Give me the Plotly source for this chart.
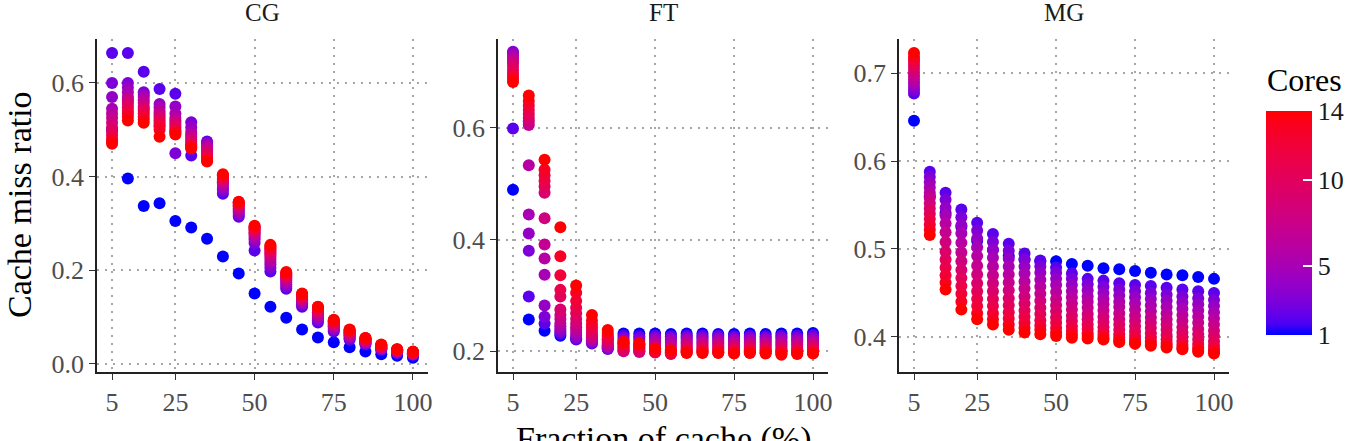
import plotly.graph_objects as go

# ---------------- data ----------------
fractions = [5, 10, 15, 20, 25, 30, 35, 40, 45, 50, 55, 60, 65, 70, 75, 80, 85, 90, 95, 100]
cores = [1, 2, 3, 4, 5, 6, 7, 8, 9, 10, 11, 12, 13, 14]
benchmarks = ["CG", "FT", "MG"]
x_ticks = [5, 25, 50, 75, 100]
core_ticks = [1, 5, 10, 14]

# each row: one fraction of cache; values for cores 1..14
cg_miss = [
    [0.500, 0.664, 0.600, 0.570, 0.545, 0.535, 0.525, 0.515, 0.505, 0.495, 0.488, 0.480, 0.475, 0.470],
    [0.396, 0.664, 0.600, 0.590, 0.580, 0.570, 0.565, 0.560, 0.555, 0.548, 0.540, 0.535, 0.528, 0.520],
    [0.337, 0.624, 0.580, 0.575, 0.570, 0.563, 0.557, 0.550, 0.545, 0.540, 0.535, 0.528, 0.522, 0.515],
    [0.343, 0.587, 0.507, 0.555, 0.548, 0.540, 0.535, 0.530, 0.525, 0.520, 0.515, 0.510, 0.500, 0.485],
    [0.305, 0.577, 0.450, 0.550, 0.535, 0.525, 0.520, 0.515, 0.510, 0.505, 0.500, 0.497, 0.493, 0.490],
    [0.291, 0.445, 0.516, 0.505, 0.495, 0.490, 0.485, 0.480, 0.475, 0.470, 0.468, 0.465, 0.462, 0.460],
    [0.267, 0.475, 0.472, 0.470, 0.466, 0.462, 0.458, 0.455, 0.450, 0.446, 0.442, 0.438, 0.435, 0.432],
    [0.229, 0.363, 0.370, 0.375, 0.380, 0.385, 0.388, 0.390, 0.393, 0.396, 0.399, 0.401, 0.403, 0.405],
    [0.193, 0.314, 0.318, 0.322, 0.326, 0.330, 0.333, 0.336, 0.338, 0.340, 0.342, 0.344, 0.345, 0.346],
    [0.150, 0.242, 0.258, 0.265, 0.270, 0.275, 0.278, 0.281, 0.284, 0.287, 0.289, 0.291, 0.293, 0.295],
    [0.122, 0.197, 0.205, 0.212, 0.218, 0.224, 0.229, 0.234, 0.238, 0.242, 0.245, 0.248, 0.251, 0.254],
    [0.098, 0.160, 0.165, 0.170, 0.174, 0.178, 0.181, 0.184, 0.186, 0.188, 0.190, 0.192, 0.194, 0.196],
    [0.073, 0.122, 0.126, 0.129, 0.132, 0.135, 0.137, 0.139, 0.141, 0.143, 0.145, 0.147, 0.149, 0.150],
    [0.056, 0.088, 0.093, 0.097, 0.101, 0.104, 0.107, 0.110, 0.113, 0.115, 0.117, 0.119, 0.121, 0.122],
    [0.046, 0.069, 0.072, 0.075, 0.078, 0.080, 0.082, 0.084, 0.086, 0.088, 0.090, 0.091, 0.093, 0.094],
    [0.035, 0.051, 0.054, 0.057, 0.059, 0.061, 0.063, 0.065, 0.066, 0.068, 0.069, 0.071, 0.072, 0.073],
    [0.026, 0.041, 0.043, 0.045, 0.046, 0.047, 0.049, 0.050, 0.051, 0.052, 0.053, 0.054, 0.055, 0.055],
    [0.020, 0.030, 0.031, 0.032, 0.033, 0.034, 0.035, 0.036, 0.037, 0.038, 0.039, 0.040, 0.040, 0.041],
    [0.017, 0.023, 0.024, 0.025, 0.026, 0.026, 0.027, 0.028, 0.028, 0.029, 0.030, 0.030, 0.031, 0.031],
    [0.013, 0.019, 0.020, 0.020, 0.021, 0.021, 0.022, 0.022, 0.023, 0.023, 0.024, 0.025, 0.025, 0.026],
]

ft_miss = [
    [0.489, 0.599, 0.736, 0.733, 0.729, 0.725, 0.720, 0.716, 0.710, 0.703, 0.697, 0.692, 0.687, 0.682],
    [0.257, 0.298, 0.380, 0.411, 0.445, 0.533, 0.605, 0.612, 0.618, 0.625, 0.632, 0.640, 0.648, 0.658],
    [0.237, 0.250, 0.262, 0.282, 0.337, 0.366, 0.391, 0.438, 0.484, 0.495, 0.505, 0.515, 0.525, 0.543],
    [0.228, 0.232, 0.236, 0.240, 0.245, 0.250, 0.258, 0.265, 0.275, 0.298, 0.310, 0.336, 0.370, 0.422],
    [0.222, 0.221, 0.224, 0.228, 0.233, 0.238, 0.243, 0.250, 0.258, 0.268, 0.278, 0.290, 0.305, 0.318],
    [0.220, 0.214, 0.216, 0.218, 0.220, 0.222, 0.225, 0.228, 0.232, 0.237, 0.242, 0.248, 0.255, 0.265],
    [0.222, 0.204, 0.205, 0.207, 0.209, 0.211, 0.213, 0.216, 0.219, 0.222, 0.226, 0.229, 0.233, 0.238],
    [0.232, 0.228, 0.224, 0.220, 0.214, 0.207, 0.201, 0.200, 0.203, 0.207, 0.210, 0.213, 0.215, 0.217],
    [0.232, 0.227, 0.223, 0.219, 0.213, 0.206, 0.200, 0.199, 0.202, 0.205, 0.208, 0.210, 0.212, 0.214],
    [0.232, 0.228, 0.225, 0.222, 0.218, 0.214, 0.210, 0.205, 0.200, 0.198, 0.199, 0.201, 0.203, 0.205],
    [0.231, 0.227, 0.224, 0.221, 0.217, 0.213, 0.208, 0.203, 0.198, 0.195, 0.196, 0.198, 0.200, 0.202],
    [0.232, 0.228, 0.225, 0.222, 0.219, 0.216, 0.213, 0.210, 0.207, 0.204, 0.202, 0.200, 0.198, 0.197],
    [0.232, 0.228, 0.225, 0.222, 0.219, 0.216, 0.213, 0.210, 0.207, 0.204, 0.202, 0.200, 0.198, 0.197],
    [0.231, 0.228, 0.225, 0.222, 0.219, 0.216, 0.213, 0.210, 0.207, 0.204, 0.201, 0.199, 0.198, 0.197],
    [0.231, 0.227, 0.224, 0.221, 0.218, 0.215, 0.212, 0.209, 0.206, 0.203, 0.201, 0.199, 0.197, 0.196],
    [0.232, 0.228, 0.225, 0.222, 0.219, 0.216, 0.213, 0.210, 0.207, 0.204, 0.202, 0.200, 0.198, 0.197],
    [0.231, 0.227, 0.224, 0.221, 0.218, 0.215, 0.212, 0.209, 0.206, 0.203, 0.201, 0.199, 0.197, 0.196],
    [0.232, 0.228, 0.225, 0.222, 0.218, 0.215, 0.212, 0.209, 0.205, 0.202, 0.200, 0.198, 0.196, 0.194],
    [0.232, 0.228, 0.224, 0.221, 0.218, 0.215, 0.212, 0.208, 0.205, 0.202, 0.200, 0.198, 0.196, 0.195],
    [0.233, 0.229, 0.225, 0.222, 0.219, 0.216, 0.213, 0.210, 0.207, 0.204, 0.201, 0.199, 0.197, 0.196],
]

mg_miss = [
    [0.646, 0.677, 0.681, 0.685, 0.689, 0.693, 0.697, 0.701, 0.705, 0.709, 0.713, 0.716, 0.719, 0.723],
    [0.560, 0.588, 0.582, 0.576, 0.570, 0.564, 0.558, 0.552, 0.546, 0.540, 0.534, 0.528, 0.522, 0.516],
    [0.541, 0.564, 0.556, 0.547, 0.538, 0.529, 0.519, 0.508, 0.497, 0.488, 0.479, 0.470, 0.462, 0.454],
    [0.525, 0.545, 0.536, 0.527, 0.518, 0.507, 0.496, 0.486, 0.476, 0.467, 0.458, 0.449, 0.440, 0.431],
    [0.509, 0.530, 0.521, 0.512, 0.502, 0.492, 0.481, 0.471, 0.461, 0.452, 0.443, 0.435, 0.427, 0.420],
    [0.499, 0.517, 0.508, 0.499, 0.490, 0.480, 0.470, 0.461, 0.452, 0.443, 0.435, 0.427, 0.420, 0.414],
    [0.492, 0.506, 0.498, 0.489, 0.480, 0.471, 0.462, 0.453, 0.444, 0.436, 0.428, 0.421, 0.414, 0.408],
    [0.488, 0.495, 0.488, 0.480, 0.472, 0.463, 0.455, 0.446, 0.438, 0.430, 0.423, 0.416, 0.410, 0.405],
    [0.486, 0.487, 0.480, 0.473, 0.465, 0.457, 0.449, 0.441, 0.433, 0.426, 0.419, 0.413, 0.408, 0.403],
    [0.486, 0.479, 0.473, 0.466, 0.459, 0.451, 0.443, 0.436, 0.429, 0.422, 0.416, 0.410, 0.405, 0.401],
    [0.483, 0.472, 0.466, 0.459, 0.452, 0.445, 0.438, 0.431, 0.424, 0.418, 0.412, 0.407, 0.403, 0.399],
    [0.481, 0.466, 0.460, 0.453, 0.446, 0.440, 0.433, 0.426, 0.420, 0.414, 0.409, 0.404, 0.401, 0.398],
    [0.478, 0.464, 0.457, 0.450, 0.443, 0.437, 0.430, 0.423, 0.417, 0.411, 0.406, 0.402, 0.399, 0.397],
    [0.477, 0.461, 0.454, 0.447, 0.440, 0.434, 0.427, 0.420, 0.414, 0.408, 0.403, 0.399, 0.396, 0.394],
    [0.475, 0.459, 0.452, 0.445, 0.438, 0.431, 0.424, 0.418, 0.412, 0.406, 0.401, 0.397, 0.394, 0.392],
    [0.473, 0.458, 0.450, 0.443, 0.436, 0.429, 0.422, 0.416, 0.410, 0.404, 0.399, 0.395, 0.392, 0.390],
    [0.471, 0.456, 0.448, 0.441, 0.434, 0.427, 0.420, 0.414, 0.408, 0.402, 0.397, 0.393, 0.390, 0.388],
    [0.470, 0.454, 0.446, 0.439, 0.432, 0.425, 0.418, 0.411, 0.405, 0.400, 0.395, 0.391, 0.388, 0.386],
    [0.468, 0.452, 0.444, 0.437, 0.430, 0.423, 0.416, 0.409, 0.403, 0.397, 0.392, 0.388, 0.385, 0.383],
    [0.466, 0.450, 0.442, 0.435, 0.428, 0.421, 0.414, 0.407, 0.401, 0.395, 0.390, 0.386, 0.383, 0.381],
]

panel_data = [cg_miss, ft_miss, mg_miss]

# ---------------- style helpers ----------------
W, H = 1350, 441
FONT = "Liberation Serif"


def srgb_to_lab(rgb):
    def lin(c):
        c = c / 255.0
        return c / 12.92 if c <= 0.04045 else ((c + 0.055) / 1.055) ** 2.4
    r, g, b = (lin(c) for c in rgb)
    X = 0.4124 * r + 0.3576 * g + 0.1805 * b
    Y = 0.2126 * r + 0.7152 * g + 0.0722 * b
    Z = 0.0193 * r + 0.1192 * g + 0.9505 * b
    xn, yn, zn = 0.95047, 1.0, 1.08883

    def f(t):
        return t ** (1 / 3) if t > 0.008856 else 7.787 * t + 16 / 116
    fx, fy, fz = f(X / xn), f(Y / yn), f(Z / zn)
    return (116 * fy - 16, 500 * (fx - fy), 200 * (fy - fz))


def lab_to_srgb(lab):
    L, a, b = lab
    fy = (L + 16) / 116
    fx = fy + a / 500
    fz = fy - b / 200

    def finv(t):
        return t ** 3 if t ** 3 > 0.008856 else (t - 16 / 116) / 7.787
    X, Y, Z = 0.95047 * finv(fx), finv(fy), 1.08883 * finv(fz)
    r = 3.2406 * X - 1.5372 * Y - 0.4986 * Z
    g = -0.9689 * X + 1.8758 * Y + 0.0415 * Z
    bb = 0.0557 * X - 0.2040 * Y + 1.0570 * Z

    def gam(c):
        c = max(0.0, min(1.0, c))
        return 12.92 * c if c <= 0.0031308 else 1.055 * c ** (1 / 2.4) - 0.055
    return tuple(int(round(255 * gam(c))) for c in (r, g, bb))


lab_lo = srgb_to_lab((0, 0, 255))
lab_hi = srgb_to_lab((255, 0, 0))
colorscale = []
for i in range(21):
    t = i / 20
    lab = tuple(lo + (hi - lo) * t for lo, hi in zip(lab_lo, lab_hi))
    r, g, b = lab_to_srgb(lab)
    colorscale.append([t, f"rgb({r},{g},{b})"])

# panel layout in pixels
x_px = [(97, 428), (498, 828), (899, 1229)]
y_top_px, y_bot_px = 39, 372
y_ranges = [[-0.0177, 0.694], [0.163, 0.759], [0.360, 0.739]]
y_tickvals = [[0.0, 0.2, 0.4, 0.6], [0.2, 0.4, 0.6], [0.4, 0.5, 0.6, 0.7]]

fig = go.Figure()

for p, (name, data) in enumerate(zip(benchmarks, panel_data)):
    xs, ys, cs = [], [], []
    for ci, c in enumerate(cores):
        for fi, fr in enumerate(fractions):
            xs.append(fr)
            ys.append(data[fi][ci])
            cs.append(c)
    sfx = "" if p == 0 else str(p + 1)
    fig.add_trace(go.Scatter(
        x=xs, y=ys, mode="markers",
        xaxis="x" + sfx, yaxis="y" + sfx,
        marker=dict(size=12, color=cs, coloraxis="coloraxis", line=dict(width=0)),
        showlegend=False, hoverinfo="x+y",
    ))

axis_common = dict(
    showline=True, linecolor="#222222", linewidth=1.6,
    ticks="outside", ticklen=6, tickwidth=1.4, tickcolor="#333333",
    showgrid=True, gridcolor="#a6a6a6", gridwidth=1.6, griddash="2px,6px",
    zeroline=False, mirror=False,
    tickfont=dict(family=FONT, size=26, color="#4d4d4d"),
)

layout = dict(
    width=W, height=H,
    margin=dict(l=0, r=0, t=0, b=0, autoexpand=False),
    paper_bgcolor="white", plot_bgcolor="white",
    font=dict(family=FONT),
    coloraxis=dict(
        colorscale=colorscale, cmin=1, cmax=14,
        colorbar=dict(
            x=1266 / W, xanchor="left", xref="paper",
            y=(H - 223) / H, yanchor="middle",
            len=224, lenmode="pixels",
            thickness=46, thicknessmode="pixels",
            xpad=0, ypad=0, outlinewidth=0,
            tickvals=core_ticks, ticktext=[str(v) for v in core_ticks],
            ticks="inside", ticklen=9, tickwidth=1.5, tickcolor="white",
            tickfont=dict(family=FONT, size=26, color="#1a1a1a"),
        ),
    ),
)

for p in range(3):
    sfx = "" if p == 0 else str(p + 1)
    x0, x1 = x_px[p]
    layout["xaxis" + sfx] = dict(
        axis_common,
        domain=[x0 / W, x1 / W], range=[0.25, 104.75],
        tickvals=x_ticks, anchor="y" + sfx,
    )
    layout["yaxis" + sfx] = dict(
        axis_common,
        domain=[(H - y_bot_px) / H, (H - y_top_px) / H],
        range=y_ranges[p], tickvals=y_tickvals[p], tickformat=".1f",
        anchor="x" + sfx,
    )

fig.update_layout(**layout)

annotations = []
for p, name in enumerate(benchmarks):
    x0, x1 = x_px[p]
    annotations.append(dict(
        text=name, x=(x0 + x1) / 2 / W, y=(H - 13) / H, xref="paper", yref="paper",
        xanchor="center", yanchor="middle", showarrow=False,
        font=dict(family=FONT, size=25, color="#1a1a1a"),
    ))
annotations.append(dict(
    text="Cache miss ratio", x=19 / W, y=(H - 205) / H, xref="paper", yref="paper",
    xanchor="center", yanchor="middle", textangle=-90, showarrow=False,
    font=dict(family=FONT, size=34, color="black"),
))
annotations.append(dict(
    text="Fraction of cache (%)", x=663 / W, y=(H - 439) / H, xref="paper", yref="paper",
    xanchor="center", yanchor="middle", showarrow=False,
    font=dict(family=FONT, size=34, color="black"),
))
annotations.append(dict(
    text="Cores", x=1265 / W, y=(H - 80) / H, xref="paper", yref="paper",
    xanchor="left", yanchor="middle", showarrow=False,
    font=dict(family=FONT, size=32, color="black"),
))
fig.update_layout(annotations=annotations)

fig.write_html("out.html")
